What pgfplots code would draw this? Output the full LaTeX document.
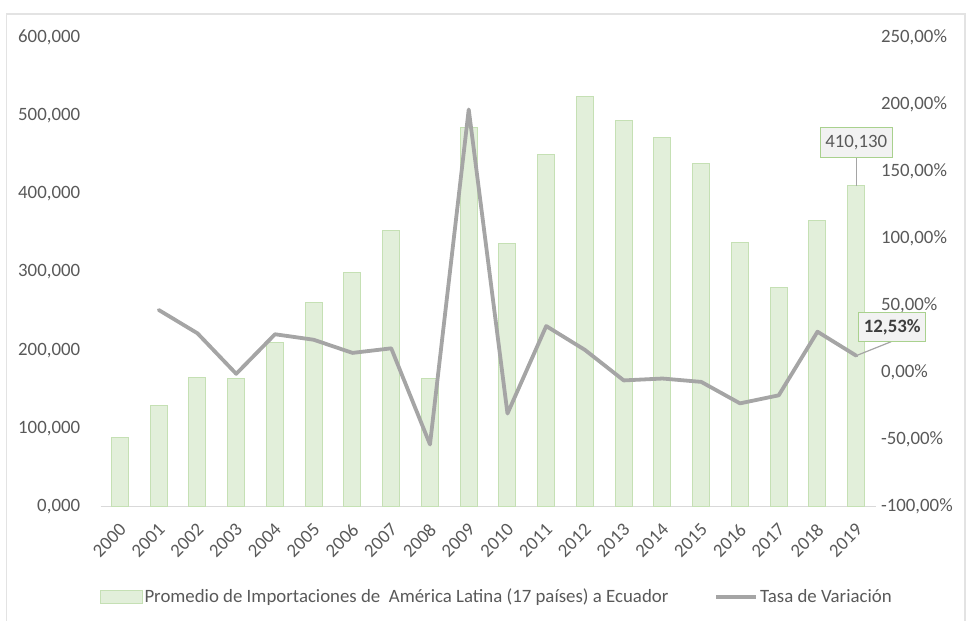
\documentclass[border=0pt]{standalone}
\usepackage{pgfplots}
\pgfplotsset{compat=1.18}
\usepackage{fontspec}
\setmainfont{Carlito}
\definecolor{barfill}{HTML}{E2EFDA}
\definecolor{bardraw}{HTML}{C5E0B4}
\definecolor{boxdraw}{HTML}{A9D18E}
\definecolor{boxfill}{HTML}{F2F2F2}
\definecolor{linec}{HTML}{A5A5A5}
\definecolor{textc}{HTML}{595959}
\definecolor{basec}{HTML}{D9D9D9}
\definecolor{framec}{HTML}{E3E3E3}
\pgfplotsset{
  barlegend/.style={legend image code/.code={\draw[##1] (0bp,-6.5bp) rectangle (42bp,6.5bp);}},
  linelegend/.style={legend image code/.code={\draw[##1, line cap=butt] (0bp,0bp) -- (40bp,0bp);}},
}
\begin{document}
\fontsize{18.9}{22.5}\selectfont
\begin{tikzpicture}[x=1bp,y=1bp]
\path[use as bounding box] (-100.6,-114.3) rectangle (866.4,506.7);
\draw[framec, line width=1.2bp] (-94,-120) -- (-94,492.7) -- (864.4,492.7) -- (864.4,-120);
\begin{axis}[
  at={(0,0)}, anchor=south west,
  scale only axis, width=775bp, height=469.7bp,
  xmin=-0.5, xmax=19.5, ymin=0, ymax=600000,
  clip=false,
  axis x line*=bottom, axis y line*=left,
  x axis line style={-, draw=basec, line width=1.2bp},
  y axis line style={draw=none},
  major tick length=0pt,
  xtick={0,...,19},
  xticklabels={2000,2001,2002,2003,2004,2005,2006,2007,2008,2009,2010,2011,2012,2013,2014,2015,2016,2017,2018,2019},
  xticklabel style={text=textc, inner sep=0bp, anchor=east, xshift=3bp, yshift=-20bp, rotate=45},
  ytick={0,100000,200000,300000,400000,500000,600000},
  yticklabels={{0,000},{100,000},{200,000},{300,000},{400,000},{500,000},{600,000}},
  yticklabel style={text=textc, anchor=east, xshift=-14bp},
  scaled y ticks=false,
]
\addplot[ybar, bar width=17bp, fill=barfill, draw=bardraw, line width=1bp] coordinates {
(0,88300) (1,128800) (2,165500) (3,163800) (4,209800) (5,261000) (6,298600) (7,352700) (8,163800) (9,484900)
(10,336000) (11,450000) (12,524100) (13,493400) (14,471300) (15,438400) (16,337700) (17,280200) (18,365500) (19,410130)};
\draw[linec, line width=1.2bp] (axis cs:19,410130) -- ++(0bp,28bp);
\node[fill=boxfill, draw=boxdraw, line width=1bp, anchor=south, minimum height=30bp, inner xsep=5bp, text=textc] at (axis cs:19,410130) [yshift=28bp] {410,130};
\end{axis}
\begin{axis}[
  at={(0,0)}, anchor=south west,
  scale only axis, width=775bp, height=469.7bp,
  xmin=-0.5, xmax=19.5, ymin=-100, ymax=250,
  clip=false,
  axis y line*=right, hide x axis,
  y axis line style={draw=none},
  major tick length=0pt,
  ytick={-100,-50,0,50,100,150,200,250},
  yticklabels={{-100,00\%},{-50,00\%},{0,00\%},{50,00\%},{100,00\%},{150,00\%},{200,00\%},{250,00\%}},
  yticklabel style={text=textc, anchor=west, xshift=-1bp},
  legend style={at={(0.511,-0.192)}, anchor=center, draw=none, fill=none, text=textc,
    legend columns=2, /tikz/every even column/.append style={column sep=44bp}},
]
\addlegendimage{fill=barfill, draw=bardraw, line width=1bp, barlegend}
\addlegendentry{Promedio de Importaciones de \ América Latina (17 países) a Ecuador}
\addplot[linec, line width=3.8bp, line join=round, line cap=round, mark=none, linelegend] coordinates {
(1,46.6) (2,29.2) (3,-1.0) (4,28.5) (5,24.4) (6,14.6) (7,18.0) (8,-53.6) (9,196.0) (10,-30.6)
(11,34.6) (12,16.8) (13,-5.9) (14,-4.5) (15,-7.0) (16,-23.0) (17,-17.0) (18,30.4) (19,12.53)};
\addlegendentry{Tasa de Variación}
\draw[linec, line width=1.2bp] (axis cs:19,12.53) -- ++(35bp,14bp);
\node[fill=boxfill, draw=boxdraw, line width=1bp, minimum height=29bp, inner xsep=5bp, text=textc!70!black, font=\bfseries] at (axis cs:19,12.53) [xshift=36bp, yshift=28.7bp] {12,53\%};
\end{axis}
\end{tikzpicture}
\end{document}
